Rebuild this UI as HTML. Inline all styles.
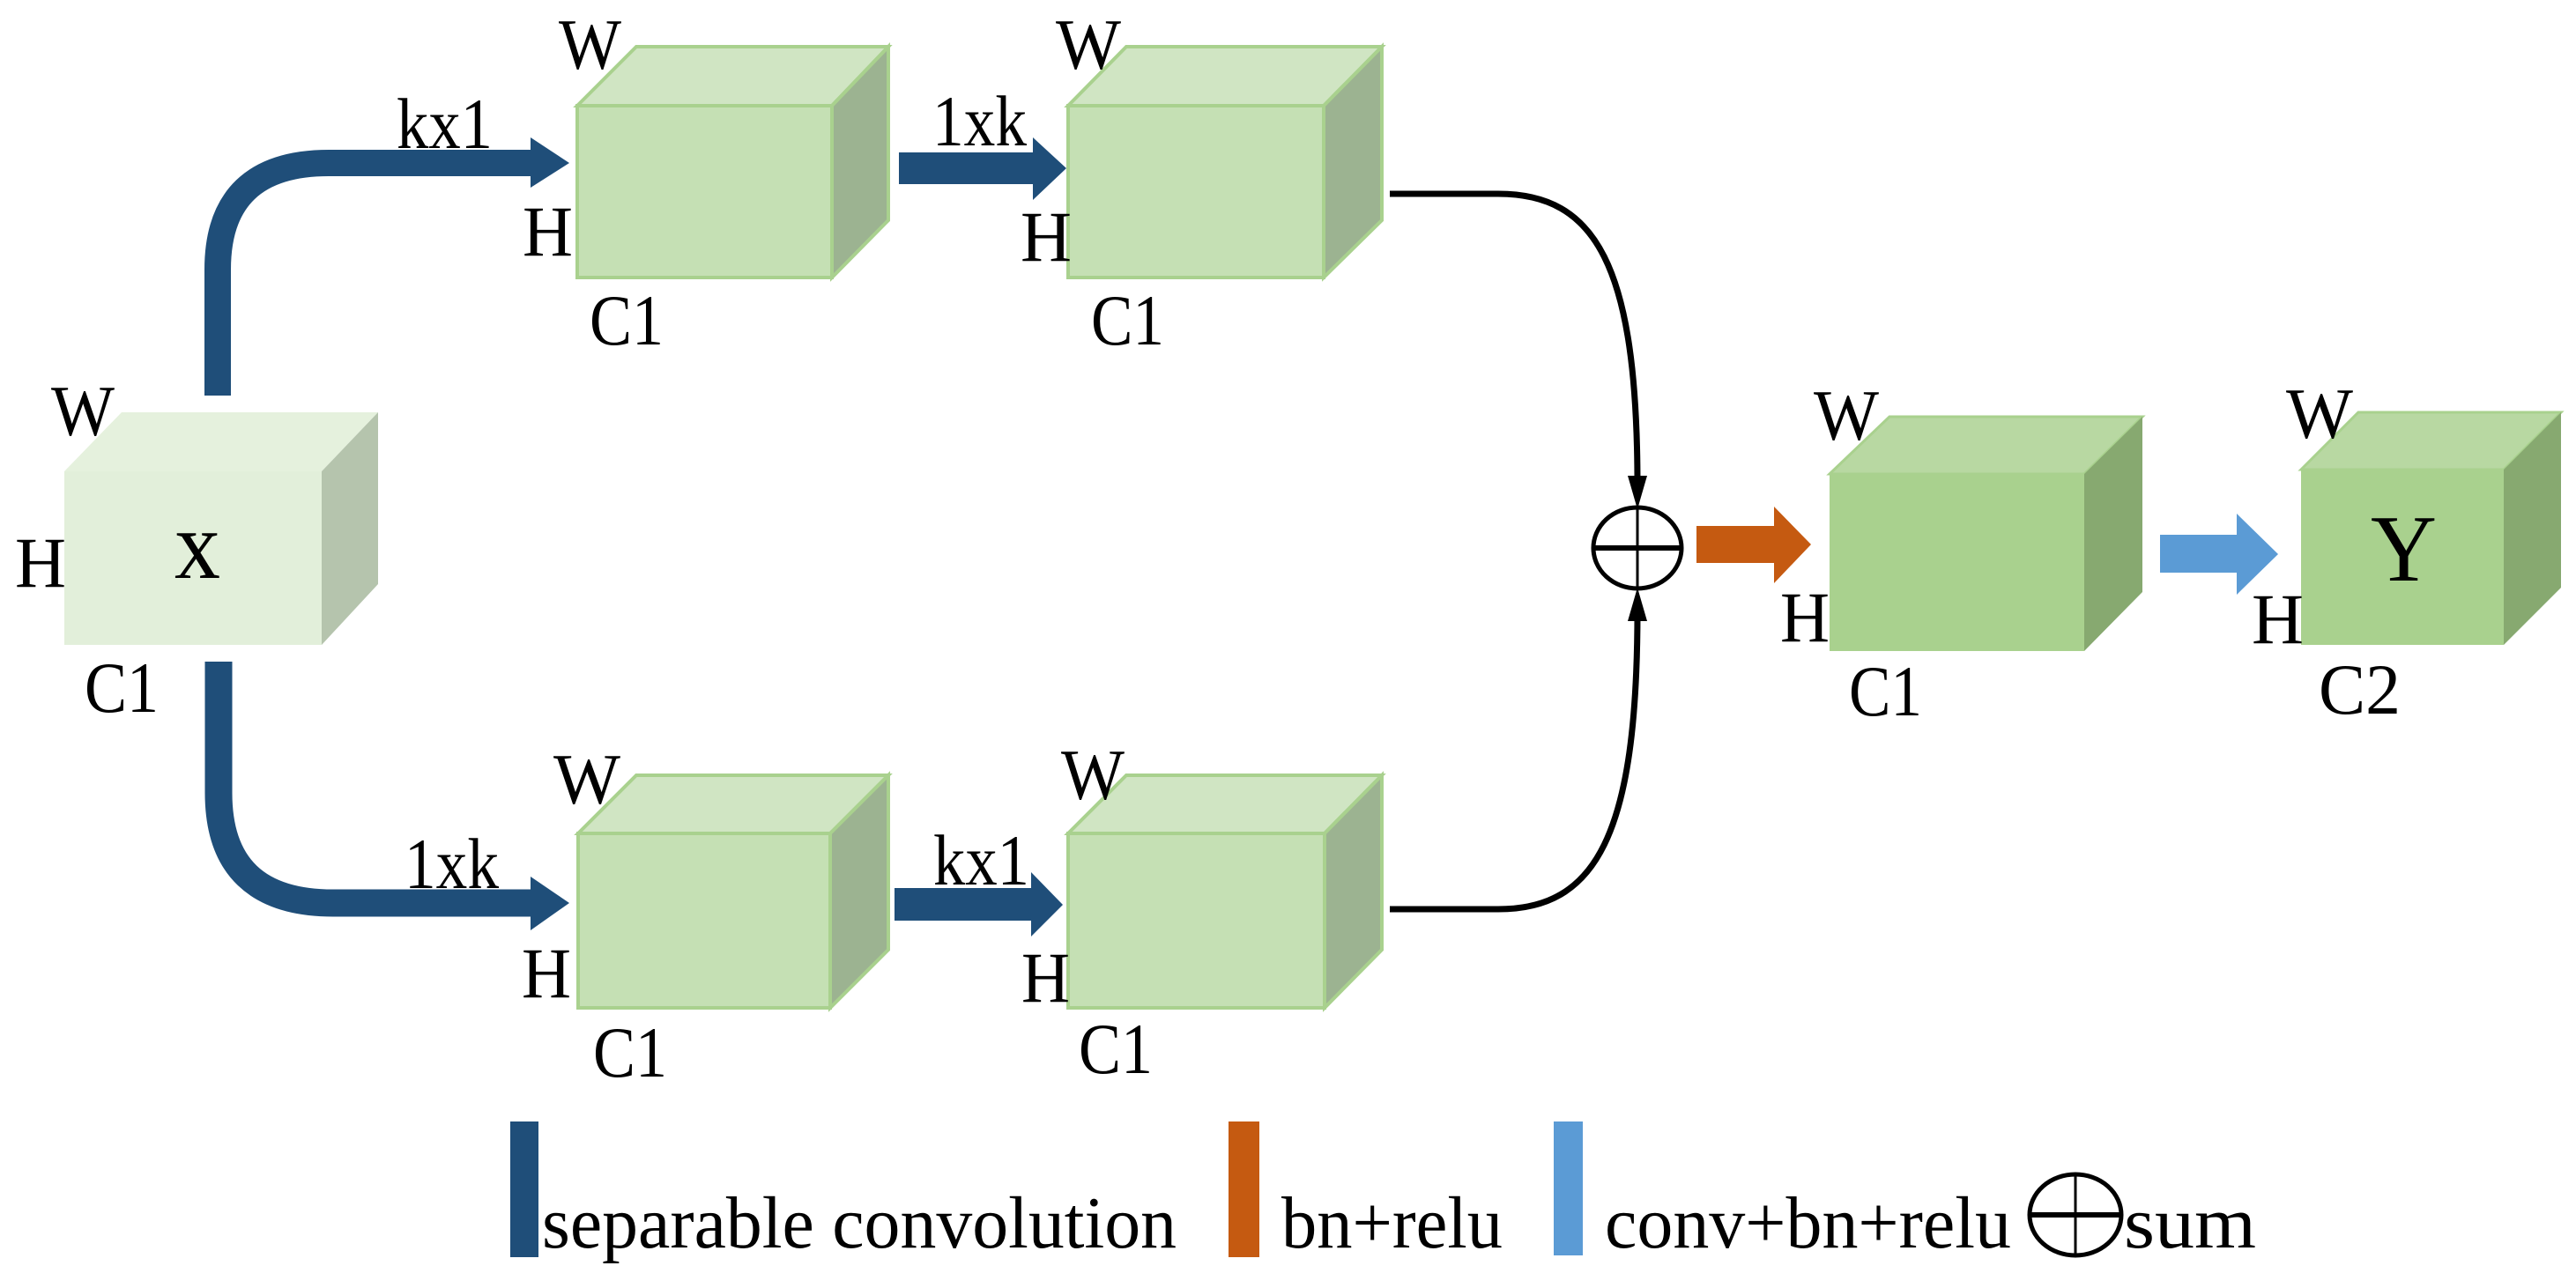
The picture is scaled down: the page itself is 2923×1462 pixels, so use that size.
<!DOCTYPE html>
<html><head><meta charset="utf-8"><style>html,body{margin:0;padding:0;background:#fff}svg{display:block}text{font-family:"Liberation Serif",serif;fill:#000}</style></head><body>
<svg width="2923" height="1462" viewBox="0 0 2923 1462" xmlns="http://www.w3.org/2000/svg" font-family="Liberation Serif, serif">
<!-- blue separable arrows -->
<path d="M247,449 L247,306 Q247,185 373,185 L604,185" fill="none" stroke="#1f4e79" stroke-width="30"/>
<polygon points="602,156 646,185 602,213" fill="#1f4e79"/>
<rect x="1020" y="173" width="154" height="36" fill="#1f4e79"/>
<polygon points="1172,156 1210,191 1172,227" fill="#1f4e79"/>
<path d="M248,751 L248,900 Q248,1025 378,1025 L604,1025" fill="none" stroke="#1f4e79" stroke-width="31"/>
<polygon points="602,995 646,1025 602,1056" fill="#1f4e79"/>
<rect x="1015" y="1008" width="157" height="37" fill="#1f4e79"/>
<polygon points="1170,990 1206,1027 1170,1063" fill="#1f4e79"/>

<!-- X cube -->
<polygon points="73,535 138,468 429,468 365,535" fill="#e5f1dd"/>
<polygon points="365,535 429,468 429,663 365,732" fill="#b5c4ad"/>
<rect x="73" y="535" width="292" height="197" fill="#e2efda"/>

<g stroke="#a9d18e" stroke-width="4">
<polygon points="655,120 722,53 1008,53 944,120" fill="#d0e5c3"/>
<polygon points="944,120 1008,53 1008,250 944,315" fill="#9cb391"/>
<rect x="655" y="120" width="289" height="195" fill="#c5e0b4"/>
<polygon points="1212,120 1278,53 1568,53 1502,120" fill="#d0e5c3"/>
<polygon points="1502,120 1568,53 1568,250 1502,315" fill="#9cb391"/>
<rect x="1212" y="120" width="290" height="195" fill="#c5e0b4"/>
<polygon points="656,946 722,880 1008,880 942,946" fill="#d0e5c3"/>
<polygon points="942,946 1008,880 1008,1078 942,1144" fill="#9cb391"/>
<rect x="656" y="946" width="286" height="198" fill="#c5e0b4"/>
<polygon points="1212,946 1278,880 1568,880 1503,946" fill="#d0e5c3"/>
<polygon points="1503,946 1568,880 1568,1078 1503,1144" fill="#9cb391"/>
<rect x="1212" y="946" width="291" height="198" fill="#c5e0b4"/>
</g>
<polygon points="2076,538 2144,473 2431,473 2365,538" fill="#b8d8a2" stroke="#a9d18e" stroke-width="3"/>
<polygon points="2365,538 2431,473 2431,672 2365,739" fill="#87a970"/>
<rect x="2076" y="538" width="289" height="201" fill="#a9d18e"/>
<polygon points="2611,533 2676,468 2906,468 2841,533" fill="#b8d8a2" stroke="#a9d18e" stroke-width="3"/>
<polygon points="2841,533 2906,468 2906,667 2841,732" fill="#87a970"/>
<rect x="2611" y="533" width="230" height="199" fill="#a9d18e"/>

<!-- black curves -->
<path d="M1577,220 L1700,220 C1810,220 1858,300 1858,550" fill="none" stroke="#000" stroke-width="7"/>
<polygon points="1847,540 1869,540 1858,578" fill="#000"/>
<path d="M1577,1032 L1700,1032 C1810,1032 1858,950 1858,694" fill="none" stroke="#000" stroke-width="7"/>
<polygon points="1847,705 1869,705 1858,667" fill="#000"/>
<ellipse cx="1858" cy="622" rx="50" ry="46" fill="none" stroke="#000" stroke-width="5"/>
<line x1="1808" y1="622" x2="1908" y2="622" stroke="#000" stroke-width="6"/>
<line x1="1858" y1="576" x2="1858" y2="668" stroke="#000" stroke-width="3"/>

<rect x="1925" y="597" width="90" height="42" fill="#c55a11"/>
<polygon points="2013,575 2055,618 2013,662" fill="#c55a11"/>
<rect x="2451" y="607" width="89" height="43" fill="#5b9bd5"/>
<polygon points="2538,583 2585,629 2538,675" fill="#5b9bd5"/>

<g font-size="82">
<text x="634" y="78" textLength="71" lengthAdjust="spacingAndGlyphs">W</text>
<text x="593" y="290" textLength="57" lengthAdjust="spacingAndGlyphs">H</text>
<text x="669" y="391" textLength="84" lengthAdjust="spacingAndGlyphs">C1</text>
<text x="450" y="168" textLength="109" lengthAdjust="spacingAndGlyphs">kx1</text>
<text x="1198" y="78" textLength="74" lengthAdjust="spacingAndGlyphs">W</text>
<text x="1058" y="165" textLength="107" lengthAdjust="spacingAndGlyphs">1xk</text>
<text x="1158" y="296" textLength="58" lengthAdjust="spacingAndGlyphs">H</text>
<text x="1238" y="391" textLength="83" lengthAdjust="spacingAndGlyphs">C1</text>

<text x="58" y="494" textLength="72" lengthAdjust="spacingAndGlyphs">W</text>
<text x="17" y="666" textLength="58" lengthAdjust="spacingAndGlyphs">H</text>
<text x="96" y="808" textLength="84" lengthAdjust="spacingAndGlyphs">C1</text>

<text x="628" y="912" textLength="76" lengthAdjust="spacingAndGlyphs">W</text>
<text x="459" y="1008" textLength="107" lengthAdjust="spacingAndGlyphs">1xk</text>
<text x="592" y="1132" textLength="56" lengthAdjust="spacingAndGlyphs">H</text>
<text x="673" y="1222" textLength="84" lengthAdjust="spacingAndGlyphs">C1</text>
<text x="1204" y="907" textLength="72" lengthAdjust="spacingAndGlyphs">W</text>
<text x="1059" y="1004" textLength="109" lengthAdjust="spacingAndGlyphs">kx1</text>
<text x="1159" y="1137" textLength="55" lengthAdjust="spacingAndGlyphs">H</text>
<text x="1224" y="1218" textLength="84" lengthAdjust="spacingAndGlyphs">C1</text>

<text x="2058" y="499" textLength="74" lengthAdjust="spacingAndGlyphs">W</text>
<text x="2020" y="728" textLength="56" lengthAdjust="spacingAndGlyphs">H</text>
<text x="2098" y="812" textLength="83" lengthAdjust="spacingAndGlyphs">C1</text>
<text x="2594" y="497" textLength="76" lengthAdjust="spacingAndGlyphs">W</text>
<text x="2555" y="730" textLength="59" lengthAdjust="spacingAndGlyphs">H</text>
<text x="2631" y="810" textLength="93" lengthAdjust="spacingAndGlyphs">C2</text>
</g>
<text x="198" y="656" font-size="110" textLength="52" lengthAdjust="spacingAndGlyphs">x</text>
<text x="2690" y="659" font-size="108" textLength="75" lengthAdjust="spacingAndGlyphs">Y</text>

<rect x="579" y="1273" width="32" height="154" fill="#1f4e79"/>
<rect x="1394" y="1273" width="35" height="154" fill="#c55a11"/>
<rect x="1763" y="1273" width="33" height="152" fill="#5b9bd5"/>
<g font-size="84" font-family="Liberation Serif, serif">
<text x="615" y="1416" textLength="720" lengthAdjust="spacingAndGlyphs">separable convolution</text>
<text x="1454" y="1416" textLength="251" lengthAdjust="spacingAndGlyphs">bn+relu</text>
<text x="1821" y="1416" textLength="461" lengthAdjust="spacingAndGlyphs">conv+bn+relu</text>
<text x="2410" y="1416" textLength="150" lengthAdjust="spacingAndGlyphs">sum</text>
</g>
<ellipse cx="2355" cy="1379" rx="52" ry="46" fill="none" stroke="#000" stroke-width="5"/>
<line x1="2303" y1="1379" x2="2407" y2="1379" stroke="#000" stroke-width="6"/>
<line x1="2355" y1="1333" x2="2355" y2="1425" stroke="#000" stroke-width="3"/>
</svg>
</body></html>
